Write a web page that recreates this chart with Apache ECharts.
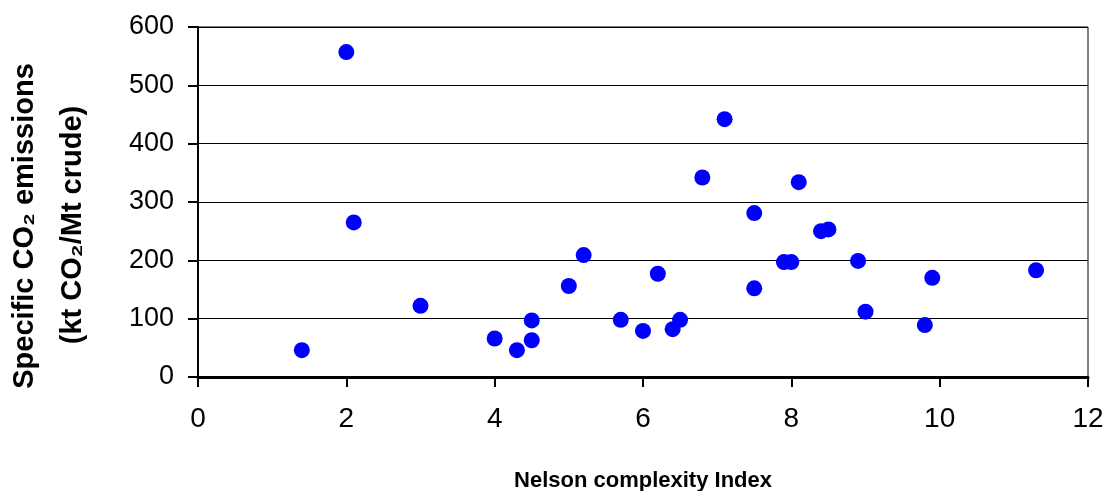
<!DOCTYPE html>
<html>
<head>
<meta charset="utf-8">
<script src="https://cdn.jsdelivr.net/npm/echarts@6/dist/echarts.min.js"></script>
<style>
html,body{margin:0;padding:0;background:#fff;}
#chart{width:1105px;height:491px;}
</style>
</head>
<body>
<div id="chart"></div>
<script>
const nelsonIndex = [1.4, 2.0, 2.1, 3.0, 4.0, 4.3, 4.5, 4.5, 5.0, 5.2, 5.7, 6.0, 6.2, 6.4, 6.5, 6.8, 7.1, 7.5, 7.5, 7.9, 8.0, 8.1, 8.4, 8.5, 8.9, 9.0, 9.8, 9.9, 11.3];
const co2Emissions = [46, 557, 265, 122, 66, 46, 97, 63, 156, 209, 98, 79, 177, 82, 98, 342, 442, 281, 152, 197, 197, 334, 250, 253, 199, 112, 89, 170, 183];
const xAxisTitle = 'Nelson complexity Index';
const yTitleLine1 = 'Specific CO\u2082 emissions';
const yTitleLine2 = '(kt CO\u2082/Mt crude)';

const points = nelsonIndex.map((x, i) => [x, co2Emissions[i]]);
const FONT = '"Liberation Sans", Arial, sans-serif';

const chart = echarts.init(document.getElementById('chart'), null, {renderer: 'canvas'});
chart.setOption({
  animation: false,
  backgroundColor: '#fff',
  grid: {left: 198, right: 17, top: 27, bottom: 114, containLabel: false, outerBoundsMode: 'none',
         show: true, borderColor: '#000', borderWidth: 1, backgroundColor: 'transparent'},
  xAxis: {
    type: 'value', min: 0, max: 12, interval: 2,
    name: xAxisTitle, nameLocation: 'middle', nameGap: 93,
    nameTextStyle: {fontFamily: FONT, fontWeight: 'bold', fontSize: 22, color: '#000'},
    axisLine: {show: true, lineStyle: {color: '#000', width: 3}},
    axisTick: {show: true, length: 10, lineStyle: {color: '#000', width: 2}},
    axisLabel: {fontFamily: FONT, fontSize: 28, color: '#000', margin: 28},
    splitLine: {show: false}
  },
  yAxis: {
    type: 'value', min: 0, max: 600, interval: 100,
    axisLine: {show: true, lineStyle: {color: '#000', width: 2}},
    axisTick: {show: true, length: 10, lineStyle: {color: '#000', width: 2}},
    axisLabel: {fontFamily: FONT, fontSize: 27, color: '#000', margin: 24},
    splitLine: {show: true, lineStyle: {color: '#000', width: 1}}
  },
  graphic: [
    {type: 'text', x: 25, y: 226, rotation: Math.PI / 2,
     style: {text: yTitleLine1, fontFamily: FONT, fontWeight: 'bold', fontSize: 29, fill: '#000', align: 'center', verticalAlign: 'middle'}},
    {type: 'text', x: 73, y: 225, rotation: Math.PI / 2,
     style: {text: yTitleLine2, fontFamily: FONT, fontWeight: 'bold', fontSize: 29, fill: '#000', align: 'center', verticalAlign: 'middle'}}
  ],
  series: [{
    type: 'scatter',
    data: points,
    symbol: 'circle',
    symbolSize: 16,
    itemStyle: {color: '#0000ff', opacity: 1},
    z: 5
  }]
});
</script>
</body>
</html>
